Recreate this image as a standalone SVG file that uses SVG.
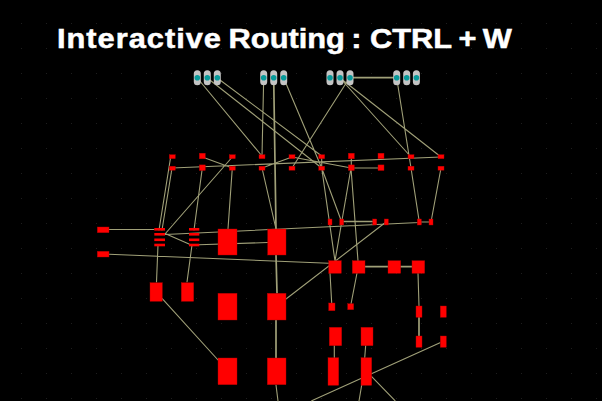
<svg xmlns="http://www.w3.org/2000/svg" width="605" height="419" viewBox="0 0 605 419">
<style>
.w{fill:none;stroke:#a0a078;stroke-width:1.100;stroke-linecap:round}
.t{stroke-width:1.700}
.p{fill:#ff0000;stroke:#b00000;stroke-width:.4}
.s{fill:#ff0000}
.o{fill:#c4c4c4}
.h{fill:#089a9a}
text{font-family:"Liberation Sans",Arial,sans-serif;font-weight:700;font-size:28px;fill:#fff;stroke:#fff;stroke-width:.5}
</style>
<defs>
<pattern id="grid" x="21" y="23" width="25" height="25" patternUnits="userSpaceOnUse"><rect width="1" height="1" fill="#1e1e1e"/></pattern>
<g id="tp"><rect class="o" x="-3.500" y="-7.500" width="7" height="15" rx="3.500"/><circle class="h" r="2.800"/></g>
<g id="sq"><rect class="p" x="-3" y="-2.800" width="6" height="5.600"/></g>
<g id="wd"><rect class="p" x="-3" y="-2" width="6" height="4"/></g>
<g id="tl"><rect class="p" x="-2" y="-3" width="4" height="6"/></g>
</defs>
<rect width="605" height="419" fill="#fff"/>
<rect width="602" height="401" fill="#000"/>
<rect width="602" height="401" fill="url(#grid)"/>
<g id="connectors" class="w">
<path class="w" d="M197.300 78L262 156M207.300 78L321.700 168M217.300 78L321.700 156M263.700 78L262 156M283.700 78L321.700 168M350 77L292 168M340 78L411 157M340 78L441 157M396.700 78L411 168"/>
<path class="w t" d="M350 77.700H396.700M273.700 78L276 229M276 255L277 293M276 320V358M358 266.700H418M341.700 221.500H374.700"/>
<path class="w" d="M172 168L441 157M202.300 157L232.300 168M232.300 157L165 234M262 168L292 157M292 157L351.300 168H381M321.700 168L341.700 222M321.700 168L335 261M351 168L341.700 222M351 168L358 261M341.700 222L335 261M411 168L419.300 222M441 168L431 222M351.300 157V168M321.700 157V168M419 222H431M165 234.500L419.300 222.500"/>
<path class="w" d="M109 229.500H154M165 233.500L189 244M199 244.700L267.700 242.500M109 254.300L328.700 263.300M170.500 158L159 230M172 168L162 230M202.300 168L194 230M158 245L156.500 282M192 245L187 282M232.300 168L228 229M262 168L276 229M276 385L278 401M286 299L386 222M162 298.300L218 360M330 273L331.700 303M357 273L351 304M418 273L419 306M334.300 345L334.300 358M365.700 345L364.700 358M440 342.700L311.700 400.700M371.700 376.700L395 400.700M361.700 385L359 401"/>
<path class="w t" d="M419 317V336"/>
</g>
<g id="title"><text transform="translate(57 47.500) scale(1.100 1)"><tspan x="0" letter-spacing=".9">Interactive</tspan> <tspan x="156">Routing</tspan> <tspan x="267.500">:</tspan> <tspan x="284.500">CTRL</tspan> <tspan x="365">+</tspan> <tspan x="387">W</tspan></text></g>
<g id="header-pads">
<use href="#tp" x="197.300" y="77.700"/><use href="#tp" x="207.300" y="77.700"/><use href="#tp" x="217.300" y="77.700"/>
<use href="#tp" x="263.700" y="77.700"/><use href="#tp" x="273.700" y="77.700"/><use href="#tp" x="283.700" y="77.700"/>
<use href="#tp" x="330" y="77.700"/><use href="#tp" x="340" y="77.700"/><use href="#tp" x="350" y="77.700"/>
<use href="#tp" x="396.700" y="77.700"/><use href="#tp" x="406.700" y="77.700"/><use href="#tp" x="416.400" y="77.700"/>
</g>
<g id="row-top">
<use href="#wd" x="172.300" y="156.700"/><use href="#sq" x="202.300" y="156"/><use href="#wd" x="232.300" y="156.700"/><use href="#wd" x="262" y="156.700"/><use href="#wd" x="292" y="156.700"/><use href="#wd" x="321.700" y="156.700"/><use href="#sq" x="351.300" y="156"/><use href="#sq" x="381" y="156"/><use href="#wd" x="411" y="156.700"/><use href="#wd" x="441" y="156.700"/>
</g>
<g id="row-second">
<use href="#wd" x="172.300" y="168.200"/><use href="#sq" x="202.300" y="167.700"/><use href="#wd" x="232.300" y="168.200"/><use href="#wd" x="262" y="168.200"/><use href="#wd" x="292" y="168.200"/><use href="#wd" x="321.700" y="168.200"/><use href="#sq" x="351.300" y="167.700"/><use href="#sq" x="381" y="167.700"/><use href="#wd" x="411" y="168.200"/><use href="#wd" x="441" y="168.200"/>
</g>
<g id="row-third">
<use href="#tl" x="330" y="222"/><use href="#tl" x="341.700" y="222"/><use href="#tl" x="374.700" y="222"/><use href="#tl" x="386.300" y="222"/><use href="#tl" x="419.300" y="222"/><use href="#tl" x="431" y="222"/>
</g>
<g id="left-pads"><rect class="p" x="97.300" y="227" width="11.700" height="5.700"/><rect class="p" x="97.300" y="251.300" width="11.700" height="5.700"/></g>
<g id="stack-a"><rect class="s" x="154.300" y="228" width="10.700" height="2.600"/><rect class="s" x="154.300" y="233" width="10.700" height="2.600"/><rect class="s" x="154.300" y="238.500" width="10.700" height="2.600"/><rect class="s" x="154.300" y="243.700" width="10.700" height="2.600"/></g>
<g id="stack-b"><rect class="s" x="189" y="228" width="10.300" height="2.600"/><rect class="s" x="189" y="233" width="10.300" height="2.600"/><rect class="s" x="189" y="238.500" width="10.300" height="2.600"/><rect class="s" x="189" y="243.700" width="10.300" height="2.600"/></g>
<g id="big-pads">
<rect class="p" x="218" y="229" width="19" height="26"/><rect class="p" x="267.700" y="229" width="18.300" height="26"/>
<rect class="p" x="218" y="293.300" width="19" height="26.700"/><rect class="p" x="267.300" y="293.300" width="18.700" height="26.700"/>
<rect class="p" x="218" y="358" width="19" height="26.700"/><rect class="p" x="267.300" y="358" width="18.700" height="26.700"/>
</g>
<g id="row-square">
<rect class="p" x="328.700" y="260.700" width="12.600" height="12.600"/><rect class="p" x="352.300" y="260.700" width="12.700" height="12.600"/><rect class="p" x="388" y="260.700" width="12.700" height="12.600"/><rect class="p" x="412" y="260.700" width="12.700" height="12.600"/>
</g>
<g id="mid-pads">
<rect class="p" x="150" y="282.700" width="12.300" height="18.600"/><rect class="p" x="181.300" y="282.700" width="12.400" height="18.600"/>
<rect class="p" x="328.700" y="303" width="6.300" height="7.700"/><rect class="p" x="347.700" y="303.700" width="6" height="6"/>
<rect class="p" x="416" y="306" width="6" height="11.300"/><rect class="p" x="440.300" y="306" width="6" height="11.300"/>
<rect class="p" x="416" y="336" width="6" height="11.300"/><rect class="p" x="440.300" y="336" width="6" height="11.300"/>
<rect class="p" x="329.300" y="327.300" width="12.400" height="18.400"/><rect class="p" x="361" y="327.300" width="12" height="18.400"/>
<rect class="p" x="328" y="357.700" width="10.700" height="27.600"/><rect class="p" x="361" y="357.700" width="10.700" height="27.600"/>
</g>
</svg>
